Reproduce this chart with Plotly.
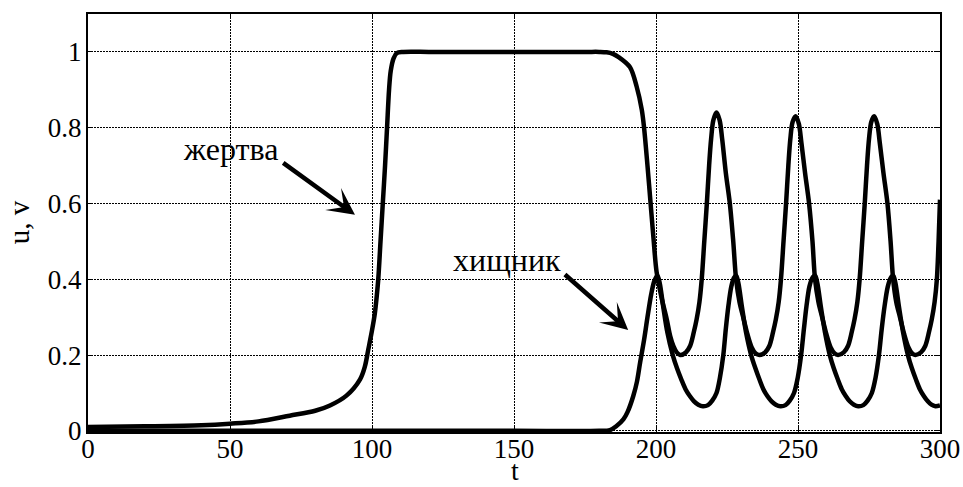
import plotly.graph_objects as go

# ---- data ----
# prey (жертва), u(t)
t_prey = [0, 20, 40, 50, 60, 71, 80, 85.2, 91, 95.8, 97.5, 98.7, 100, 101, 101.6, 102.2, 103, 103.8,
          104.6, 105.3, 106, 106.6, 107.6, 108.7, 111, 120, 130, 140, 150, 160, 170, 176, 180, 182.6,
          184.8, 186.7, 190.8, 193.2,
          195, 195.8, 197, 198.1, 199.1, 200.2, 202, 203.8, 205, 206.1, 207.3, 208.5,
          210.5, 212, 213.3, 214.3, 215.3, 216.1, 217, 217.9, 218.7, 219.4, 220.2, 221.3, 222.4,
          223.3, 224.6, 226, 227.2, 228.2, 229.4, 230.7, 232.2, 233.7, 235, 236.4,
          238.4, 239.9, 241.2, 242.2, 243.2, 244, 244.9, 245.8, 246.6, 247.3, 248.1, 249.2, 250.3,
          251.2, 252.5, 253.9, 255.1, 256, 257.2, 258.5, 260, 261.5, 262.8, 264.1,
          266.1, 267.6, 268.9, 269.9, 270.9, 271.7, 272.6, 273.5, 274.3, 275, 275.8, 276.8, 277.9,
          278.8, 280.1, 281.5, 282.6, 283.5, 284.6, 285.9, 287.4, 288.9, 290.1, 291.3,
          293.3, 294.8, 296.1, 297.1, 298.1, 298.9, 299.5, 300]
u_prey = [0.010, 0.012, 0.015, 0.019, 0.025, 0.040, 0.053, 0.067, 0.093, 0.136, 0.170, 0.215, 0.265, 0.310,
          0.350, 0.400, 0.500, 0.600, 0.700, 0.800, 0.900, 0.950, 0.983, 0.997, 1.0, 1.0, 1.0, 1.0,
          1.0, 1.0, 1.0, 1.0, 1.0, 0.999, 0.995, 0.987, 0.960, 0.908, 0.847, 0.800, 0.700, 0.600,
          0.510, 0.420, 0.350, 0.294, 0.250, 0.224, 0.207, 0.200,
          0.207, 0.224, 0.260, 0.294, 0.340, 0.400, 0.500, 0.600, 0.700, 0.770, 0.820, 0.840, 0.820,
          0.770, 0.680, 0.600, 0.500, 0.400, 0.340, 0.300, 0.255, 0.220, 0.205, 0.200,
          0.207, 0.224, 0.260, 0.294, 0.340, 0.400, 0.500, 0.600, 0.700, 0.770, 0.815, 0.830, 0.810,
          0.760, 0.680, 0.600, 0.500, 0.400, 0.340, 0.300, 0.255, 0.220, 0.205, 0.200,
          0.207, 0.224, 0.260, 0.294, 0.340, 0.400, 0.500, 0.600, 0.700, 0.770, 0.815, 0.830, 0.810,
          0.760, 0.680, 0.600, 0.500, 0.400, 0.340, 0.300, 0.255, 0.220, 0.205, 0.200,
          0.207, 0.224, 0.260, 0.294, 0.340, 0.400, 0.500, 0.610]

# predator (хищник), v(t)
t_pred = [0, 50, 100, 150, 180, 183.8, 186, 188.5, 190, 192, 193.3, 194.4, 195.8, 197, 198.3, 199.4, 200.5,
          201.3, 202.5, 204, 205.9, 207.4, 208.9, 210.4, 211.9, 213.4, 214.9, 216.5,
          218.3, 219.8, 221.3, 222.5, 223.7, 224.6, 225.5, 226.5, 227.4, 228.2,
          229, 230.2, 231.7, 233.5, 235, 236.4, 237.8, 239.2, 240.7, 242.2, 243.8,
          245.6, 247.1, 248.6, 249.9, 251.1, 252.1, 253, 254, 255, 256,
          256.8, 258, 259.5, 261.2, 262.6, 264, 265.4, 266.8, 268.2, 269.7, 271.2,
          273, 274.5, 276, 277.3, 278.5, 279.5, 280.5, 281.6, 282.6, 283.5,
          284.3, 285.5, 287, 288.7, 290.1, 291.5, 292.9, 294.3, 295.7, 297, 298.4, 300]
v_pred = [0.0, 0.0, 0.0, 0.0, 0.0, 0.002, 0.012, 0.030, 0.050, 0.092, 0.130, 0.180, 0.240, 0.300, 0.360, 0.395, 0.410,
          0.390, 0.330, 0.260, 0.200, 0.165, 0.136, 0.110, 0.092, 0.078, 0.069, 0.065,
          0.068, 0.080, 0.100, 0.140, 0.200, 0.270, 0.330, 0.380, 0.403, 0.410,
          0.390, 0.330, 0.260, 0.200, 0.165, 0.136, 0.110, 0.092, 0.078, 0.069, 0.065,
          0.068, 0.080, 0.100, 0.140, 0.200, 0.270, 0.330, 0.380, 0.403, 0.410,
          0.390, 0.330, 0.260, 0.200, 0.165, 0.136, 0.110, 0.092, 0.078, 0.069, 0.065,
          0.068, 0.080, 0.100, 0.140, 0.200, 0.270, 0.330, 0.380, 0.403, 0.410,
          0.390, 0.330, 0.260, 0.200, 0.165, 0.136, 0.110, 0.092, 0.078, 0.069, 0.065, 0.067]

x_ticks = [0, 50, 100, 150, 200, 250, 300]
y_ticks = [0, 0.2, 0.4, 0.6, 0.8, 1]
y_tick_text = ["0", "0.2", "0.4", "0.6", "0.8", "1"]
label_prey = "жертва"
label_pred = "хищник"
x_title = "t"
y_title = "u, v"

FONT = "Liberation Serif"

fig = go.Figure()
line_style = dict(color="black", width=4.5, shape="spline", smoothing=0.9)
fig.add_trace(go.Scatter(x=t_prey, y=u_prey, mode="lines", line=line_style, showlegend=False))
fig.add_trace(go.Scatter(x=t_pred, y=v_pred, mode="lines", line=line_style, showlegend=False))

axis_common = dict(
    showline=True, linecolor="black", linewidth=2, mirror="ticks",
    ticks="inside", ticklen=5, tickcolor="black", tickwidth=1,
    showgrid=True, gridcolor="black", gridwidth=1, griddash="2px,1px",
    zeroline=False, automargin=False,
    tickfont=dict(family=FONT, size=27, color="black"),
)

fig.update_xaxes(range=[0, 300], tickvals=x_ticks, ticktext=[str(v) for v in x_ticks],
                 ticklabelstandoff=-8, **axis_common)
fig.update_yaxes(range=[-0.003, 1.1], tickvals=y_ticks, ticktext=y_tick_text,
                 ticklabelstandoff=-1, **axis_common)

# axis titles
fig.add_annotation(x=0.501, y=-0.1316, xref="paper", yref="paper", text=x_title, showarrow=False,
                   font=dict(family=FONT, size=28, color="black"), xanchor="center", yanchor="bottom",
                   borderpad=0)
fig.add_annotation(x=-0.081, y=0.502, xref="paper", yref="paper", text=y_title, showarrow=False,
                   textangle=-90, font=dict(family=FONT, size=29, color="black"),
                   xanchor="center", yanchor="middle")

# arrows
fig.add_annotation(x=94.0, y=0.570, ax=68.2, ay=0.710, axref="x", ayref="y", xref="x", yref="y",
                   text="", showarrow=True, arrowhead=3, arrowsize=1.0, arrowwidth=4.5,
                   arrowcolor="black", standoff=0)
fig.add_annotation(x=190.2, y=0.266, ax=167.4, ay=0.416, axref="x", ayref="y", xref="x", yref="y",
                   text="", showarrow=True, arrowhead=3, arrowsize=1.0, arrowwidth=4.5,
                   arrowcolor="black", standoff=0)
# labels
fig.add_annotation(x=50.2, y=0.745, xref="x", yref="y", text=label_prey, showarrow=False,
                   font=dict(family=FONT, size=32, color="black"), xanchor="center", yanchor="middle")
fig.add_annotation(x=147.7, y=0.450, xref="x", yref="y", text=label_pred, showarrow=False,
                   font=dict(family=FONT, size=32, color="black"), xanchor="center", yanchor="middle")

fig.update_layout(
    width=963, height=487,
    margin=dict(l=88, r=23, t=14, b=55),
    paper_bgcolor="white", plot_bgcolor="white",
    font=dict(family=FONT, color="black"),
)

fig.write_html("out.html", config={"displayModeBar": False})
